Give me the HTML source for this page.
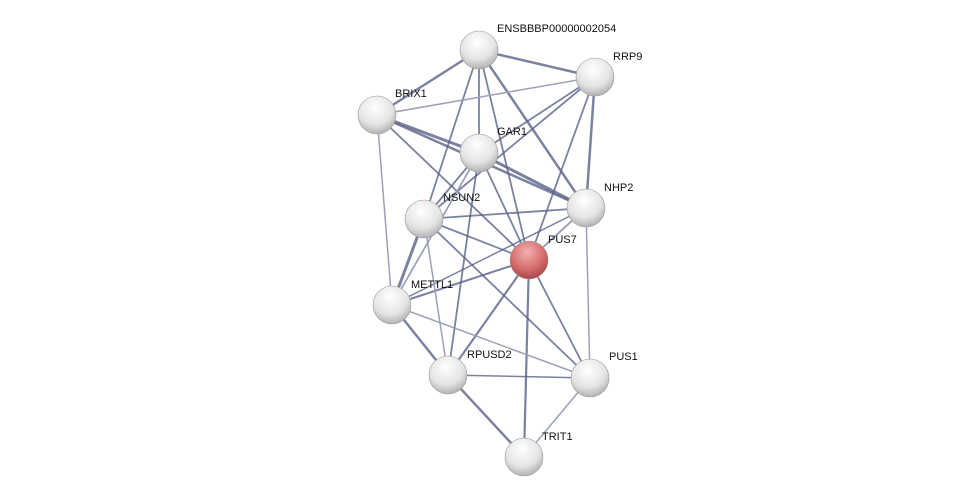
<!DOCTYPE html>
<html><head><meta charset="utf-8"><style>
html,body{margin:0;padding:0;background:#fff;width:976px;height:503px;overflow:hidden}
text{font-family:"Liberation Sans",sans-serif;font-size:11px;fill:#111}
</style></head><body>
<svg width="976" height="503" viewBox="0 0 976 503" xmlns="http://www.w3.org/2000/svg">
<defs>
<radialGradient id="g" cx="0.45" cy="0.3" r="0.75">
<stop offset="0" stop-color="#ffffff"/><stop offset="0.6" stop-color="#e4e4e4"/><stop offset="1" stop-color="#a8a8a8"/></radialGradient>
<radialGradient id="r" cx="0.45" cy="0.3" r="0.75">
<stop offset="0" stop-color="#f2b0b0"/><stop offset="0.6" stop-color="#d66a6a"/><stop offset="1" stop-color="#a04040"/></radialGradient>
</defs>
<g stroke-linecap="round">
<g stroke="#5a6388" stroke-opacity="0.8">
<line x1="479" y1="50" x2="595" y2="77" stroke-width="2.5"/>
<line x1="479" y1="50" x2="377" y2="115" stroke-width="2.5"/>
<line x1="479" y1="50" x2="479" y2="153" stroke-width="1.8"/>
<line x1="479" y1="50" x2="586" y2="208" stroke-width="2.5"/>
<line x1="479" y1="50" x2="424" y2="219" stroke-width="1.8"/>
<line x1="479" y1="50" x2="529" y2="260" stroke-width="1.8"/>
<line x1="377" y1="115" x2="479" y2="153" stroke-width="3"/>
<line x1="377" y1="115" x2="586" y2="208" stroke-width="2.5"/>
<line x1="377" y1="115" x2="529" y2="260" stroke-width="1.8"/>
<line x1="595" y1="77" x2="479" y2="153" stroke-width="1.8"/>
<line x1="595" y1="77" x2="586" y2="208" stroke-width="2.5"/>
<line x1="595" y1="77" x2="424" y2="219" stroke-width="1.8"/>
<line x1="595" y1="77" x2="529" y2="260" stroke-width="1.8"/>
<line x1="479" y1="153" x2="586" y2="208" stroke-width="3"/>
<line x1="479" y1="153" x2="424" y2="219" stroke-width="1.8"/>
<line x1="479" y1="153" x2="529" y2="260" stroke-width="1.8"/>
<line x1="479" y1="153" x2="392" y2="305" stroke-width="1.5"/>
<line x1="479" y1="153" x2="448" y2="375" stroke-width="1.8"/>
<line x1="586" y1="208" x2="424" y2="219" stroke-width="1.8"/>
<line x1="586" y1="208" x2="529" y2="260" stroke-width="1.8"/>
<line x1="586" y1="208" x2="392" y2="305" stroke-width="1.5"/>
<line x1="424" y1="219" x2="529" y2="260" stroke-width="1.8"/>
<line x1="424" y1="219" x2="392" y2="305" stroke-width="3"/>
<line x1="424" y1="219" x2="590" y2="378" stroke-width="1.8"/>
<line x1="529" y1="260" x2="392" y2="305" stroke-width="2"/>
<line x1="529" y1="260" x2="448" y2="375" stroke-width="2.2"/>
<line x1="529" y1="260" x2="590" y2="378" stroke-width="1.8"/>
<line x1="529" y1="260" x2="524" y2="457" stroke-width="2.2"/>
<line x1="392" y1="305" x2="448" y2="375" stroke-width="2.5"/>
<line x1="448" y1="375" x2="590" y2="378" stroke-width="1.5"/>
<line x1="448" y1="375" x2="524" y2="457" stroke-width="2.5"/>
</g>
<g stroke="#9aa0b8" stroke-width="1.5">
<line x1="377" y1="115" x2="595" y2="77"/>
<line x1="377" y1="115" x2="392" y2="305"/>
<line x1="586" y1="208" x2="590" y2="378"/>
<line x1="392" y1="305" x2="590" y2="378"/>
<line x1="590" y1="378" x2="524" y2="457"/>
<line x1="424" y1="219" x2="448" y2="375"/>
<line x1="479" y1="153" x2="392" y2="305"/>
<line x1="586" y1="208" x2="529" y2="260"/>
</g>
</g>
<g stroke="#999" stroke-width="0.6">
<circle cx="479" cy="50" r="19" fill="url(#g)"/>
<circle cx="595" cy="77" r="19" fill="url(#g)"/>
<circle cx="377" cy="115" r="19" fill="url(#g)"/>
<circle cx="479" cy="153" r="19" fill="url(#g)"/>
<circle cx="586" cy="208" r="19" fill="url(#g)"/>
<circle cx="424" cy="219" r="19" fill="url(#g)"/>
<circle cx="529" cy="260" r="19" fill="url(#r)"/>
<circle cx="392" cy="305" r="19" fill="url(#g)"/>
<circle cx="448" cy="375" r="19" fill="url(#g)"/>
<circle cx="590" cy="378" r="19" fill="url(#g)"/>
<circle cx="524" cy="457" r="19" fill="url(#g)"/>
</g>
<text x="497" y="32">ENSBBBP00000002054</text>
<text x="613" y="60">RRP9</text>
<text x="395" y="97">BRIX1</text>
<text x="497" y="135">GAR1</text>
<text x="604" y="191">NHP2</text>
<text x="443" y="201">NSUN2</text>
<text x="548" y="243">PUS7</text>
<text x="411" y="288">METTL1</text>
<text x="467" y="358">RPUSD2</text>
<text x="609" y="360">PUS1</text>
<text x="542" y="440">TRIT1</text>
</svg>
</body></html>
